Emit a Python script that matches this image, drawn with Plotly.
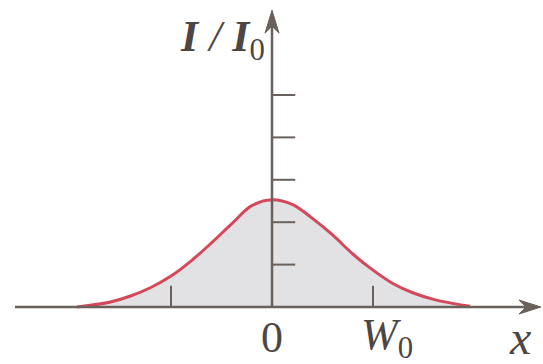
import plotly.graph_objects as go

# Beam intensity profile: position in units of W0, intensity in tick units
x_pos = [-1.93, -1.8, -1.6, -1.4, -1.2, -1.0, -0.8, -0.6, -0.4, -0.2, 0.0,
         0.2, 0.4, 0.6, 0.8, 1.0, 1.2, 1.4, 1.6, 1.8, 1.96]
intensity = [0.0, 0.04, 0.12, 0.26, 0.46, 0.73, 1.09, 1.51, 1.96, 2.39, 2.53,
             2.42, 2.09, 1.70, 1.25, 0.87, 0.55, 0.33, 0.18, 0.08, 0.02]

y_ticks = [1, 2, 3, 4, 5]
x_ticks = [-1, 1]
x_tick_labels = [(0, "0"), (1.14, "<i>W</i><sub>0</sub>")]

AXIS = "#6a615c"
TEXT = "#4e4643"
CURVE = "#d4485a"
FILL = "#e2e2e4"
FONT = "Liberation Serif"

fig = go.Figure()

fig.add_trace(go.Scatter(
    x=x_pos, y=intensity, mode="lines",
    line=dict(color=CURVE, width=3, shape="spline", smoothing=1.0),
    fill="tozeroy", fillcolor=FILL, hoverinfo="skip", showlegend=False,
))

shapes = []
# axes
shapes.append(dict(type="line", x0=-2.545, x1=2.56, y0=0, y1=0,
                   line=dict(color=AXIS, width=2.5), layer="above"))
shapes.append(dict(type="line", x0=0, x1=0, y0=0, y1=6.7,
                   line=dict(color=AXIS, width=2.5), layer="above"))
# arrow heads (pixel-sized, anchored at the axis tips)
shapes.append(dict(type="path", xsizemode="pixel", ysizemode="pixel",
                   xanchor=2.663, yanchor=0,
                   path="M0,0 L-22,7 L-15,0 L-22,-7 Z",
                   fillcolor=AXIS, line=dict(color=AXIS, width=1), layer="above"))
shapes.append(dict(type="path", xsizemode="pixel", ysizemode="pixel",
                   xanchor=0, yanchor=7.0,
                   path="M0,0 L-7,-23 L0,-16 L7,-23 Z",
                   fillcolor=AXIS, line=dict(color=AXIS, width=1), layer="above"))
# y ticks
for t in y_ticks:
    shapes.append(dict(type="line", x0=0, x1=0.23, y0=t, y1=t,
                       line=dict(color=AXIS, width=2), layer="above"))
# x ticks
for t in x_ticks:
    shapes.append(dict(type="line", x0=t, x1=t, y0=0, y1=0.5,
                       line=dict(color=AXIS, width=2), layer="above"))

annotations = []
for xv, lab in x_tick_labels:
    annotations.append(dict(x=xv, y=-0.72, xref="x", yref="y", text=lab,
                            showarrow=False, xanchor="center", yanchor="middle",
                            font=dict(family=FONT, size=44, color=TEXT)))
annotations.append(dict(x=2.46, y=-0.72, xref="x", yref="y", text="<i>x</i>",
                        showarrow=False, xanchor="center", yanchor="middle",
                        font=dict(family=FONT, size=48, color=TEXT)))
annotations.append(dict(x=-0.49, y=6.3, xref="x", yref="y",
                        text="<b><i>I</i></b><i> / </i><b><i>I</i></b><sub>0</sub>",
                        showarrow=False, xanchor="center", yanchor="middle",
                        font=dict(family=FONT, size=44, color=TEXT)))

fig.update_layout(
    width=543, height=364,
    margin=dict(l=0, r=0, t=0, b=0),
    paper_bgcolor="white", plot_bgcolor="white",
    xaxis=dict(range=[-2.693, 2.683], visible=False, fixedrange=True),
    yaxis=dict(range=[-1.344, 7.24], visible=False, fixedrange=True),
    shapes=shapes, annotations=annotations,
)

fig.write_html("out.html")
